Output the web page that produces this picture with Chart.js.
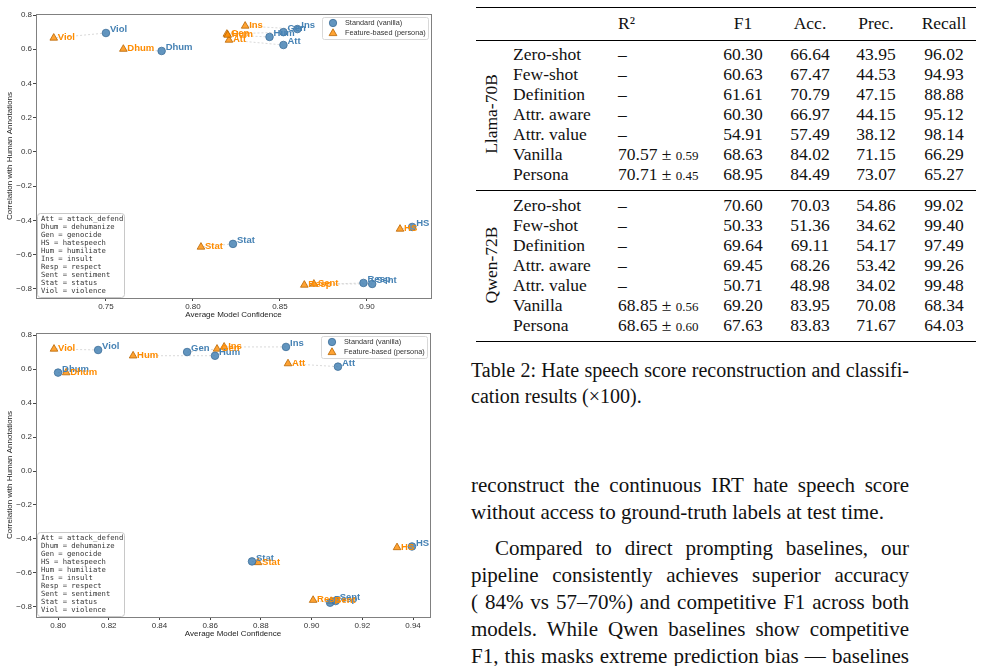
<!DOCTYPE html>
<html>
<head>
<meta charset="utf-8">
<script src="https://cdn.jsdelivr.net/npm/chart.js@4.4.1/dist/chart.umd.min.js"></script>
<style>
  body { margin: 0; background: #fff; width: 983px; height: 666px; overflow: hidden; position: relative;
         font-family: "Liberation Serif", "Times New Roman", serif; color: #111; }
  .plot { position: absolute; left: 0; width: 440px; }
  .cell { position: absolute; height: 20px; line-height: 20px; font-size: 17.5px; white-space: nowrap; }
  .small { font-size: 13px; }
  .rule { position: absolute; left: 476px; width: 500px; background: #000; }
  .grp { position: absolute; font-size: 17.5px; line-height: 20px; white-space: nowrap; transform: translate(-50%, -50%) rotate(-90deg); }
  .line { position: absolute; left: 471px; width: 438px; white-space: nowrap; }
  .just { text-align: justify; text-align-last: justify; white-space: normal; }
  .body { font-size: 21px; line-height: 27px; height: 27px; }
  .cap { font-size: 20px; line-height: 26px; height: 26px; }
</style>
</head>
<body>
<div class="plot" style="top:0;height:325px"><canvas id="top"></canvas></div>
<div class="plot" style="top:325px;height:319px"><canvas id="bottom"></canvas></div>

<script>
// categories (abbreviations) and what they stand for
const abbrs = ["Att", "Dhum", "Gen", "HS", "Hum", "Ins", "Resp", "Sent", "Stat", "Viol"];
const abbrFull = ["attack_defend", "dehumanize", "genocide", "hatespeech", "humiliate",
                  "insult", "respect", "sentiment", "status", "violence"];

// top panel
const vanConf1 = [0.852, 0.782, 0.852, 0.926, 0.844, 0.860, 0.898, 0.903, 0.823, 0.750];
const vanCorr1 = [0.625, 0.590, 0.700, -0.438, 0.672, 0.718, -0.765, -0.771, -0.537, 0.695];
const perConf1 = [0.8207, 0.760, 0.8195, 0.919, 0.820, 0.830, 0.864, 0.8695, 0.8046, 0.720];
const perCorr1 = [0.654, 0.601, 0.689, -0.450, 0.683, 0.736, -0.777, -0.771, -0.555, 0.666];
const xTicks1 = [0.75, 0.80, 0.85, 0.90];

// bottom panel
const vanConf2 = [0.9104, 0.800, 0.8509, 0.9396, 0.8619, 0.8899, 0.9073, 0.9095, 0.8765, 0.8158];
const vanCorr2 = [0.614, 0.579, 0.700, -0.444, 0.678, 0.730, -0.775, -0.765, -0.532, 0.712];
const perConf2 = [0.8907, 0.8032, 0.8627, 0.9337, 0.8296, 0.8655, 0.9006, 0.9077, 0.8789, 0.7984];
const perCorr2 = [0.632, 0.579, 0.718, -0.450, 0.678, 0.730, -0.760, -0.766, -0.538, 0.718];
const xTicks2 = [0.80, 0.82, 0.84, 0.86, 0.88, 0.90, 0.92, 0.94];

const yTicks = [-0.8, -0.6, -0.4, -0.2, 0.0, 0.2, 0.4, 0.6, 0.8];

// table
const methods = ["Zero-shot", "Few-shot", "Definition", "Attr. aware", "Attr. value", "Vanilla", "Persona"];
const tableCols = ["F1", "Acc.", "Prec.", "Recall"];
const llamaR2 = [null, null, null, null, null, [70.57, 0.59], [70.71, 0.45]];
const llamaF1 = [60.30, 60.63, 61.61, 60.30, 54.91, 68.63, 68.95];
const llamaAcc = [66.64, 67.47, 70.79, 66.97, 57.49, 84.02, 84.49];
const llamaPrec = [43.95, 44.53, 47.15, 44.15, 38.12, 71.15, 73.07];
const llamaRec = [96.02, 94.93, 88.88, 95.12, 98.14, 66.29, 65.27];
const qwenR2 = [null, null, null, null, null, [68.85, 0.56], [68.65, 0.60]];
const qwenF1 = [70.60, 50.33, 69.64, 69.45, 50.71, 69.20, 67.63];
const qwenAcc = [70.03, 51.36, 69.11, 68.26, 48.98, 83.95, 83.83];
const qwenPrec = [54.86, 34.62, 54.17, 53.42, 34.02, 70.08, 71.67];
const qwenRec = [99.02, 99.40, 97.49, 99.26, 99.48, 68.34, 64.03];

const BLUE = "#4682b4";
const ORANGE = "#ff8c00";

Chart.defaults.font.family = '"Liberation Sans", Arial, sans-serif';
Chart.defaults.animation = false;

const fmt = (v, d) => v.toFixed(d).replace("-", "\u2212");

// text next to each marker
const labelPlugin = {
    id: "pointLabels",
    afterDatasetsDraw(chart) {
        const ctx = chart.ctx;
        chart.data.datasets.forEach((ds, di) => {
            if (!ds.names) return;
            const meta = chart.getDatasetMeta(di);
            ctx.save();
            ctx.font = 'bold 9.5px "Liberation Sans", Arial, sans-serif';
            ctx.fillStyle = ds.labelColor;
            ctx.textBaseline = "middle";
            meta.data.forEach((pt, i) => ctx.fillText(ds.names[i], pt.x + 4, pt.y + ds.dy));
            ctx.restore();
        });
    }
};

// legend box, abbreviation key, frame
const decoPlugin = {
    id: "deco",
    afterDraw(chart) {
        const { ctx, chartArea: a } = chart;
        ctx.save();

        // abbreviation key, bottom left
        const kx = a.left + 1, kw = 87, kh = 84, ky = a.bottom - 1 - kh;
        ctx.fillStyle = "rgba(255,255,255,0.9)";
        ctx.strokeStyle = "#c8c8c8";
        ctx.lineWidth = 1;
        ctx.beginPath();
        ctx.roundRect(kx + 0.5, ky + 0.5, kw, kh, 3);
        ctx.fill(); ctx.stroke();
        ctx.fillStyle = "#333";
        ctx.font = '7.2px "DejaVu Sans Mono", monospace';
        ctx.textBaseline = "middle";
        abbrs.forEach((ab, i) => ctx.fillText(ab + " = " + abbrFull[i], kx + 4, ky + 6.5 + i * 8));

        // legend, top right
        const lw = 106, lh = 22, lx = a.right - 3 - lw, ly = a.top + 3;
        ctx.fillStyle = "rgba(255,255,255,0.9)";
        ctx.strokeStyle = "#d8d8d8";
        ctx.beginPath();
        ctx.roundRect(lx + 0.5, ly + 0.5, lw, lh, 2);
        ctx.fill(); ctx.stroke();
        const items = chart.data.datasets.filter(d => d.names);
        items.forEach((d, i) => {
            const mx = lx + 11, my = ly + 6 + i * 10;
            ctx.fillStyle = d.backgroundColor;
            ctx.strokeStyle = d.borderColor;
            ctx.lineWidth = 0.8;
            ctx.beginPath();
            if (d.pointStyle === "circle") {
                ctx.arc(mx, my, 3.7, 0, Math.PI * 2);
            } else {
                ctx.moveTo(mx, my - 4.2);
                ctx.lineTo(mx + 3.9, my + 2.6);
                ctx.lineTo(mx - 3.9, my + 2.6);
                ctx.closePath();
            }
            ctx.fill(); ctx.stroke();
            ctx.fillStyle = "#333";
            ctx.font = '7.3px "Liberation Sans", Arial, sans-serif';
            ctx.textBaseline = "middle";
            ctx.fillText(d.label, lx + 23, my);
        });

        // plot frame
        ctx.strokeStyle = "#808080";
        ctx.lineWidth = 1;
        ctx.strokeRect(a.left + 0.5, a.top + 0.5, a.right - a.left, a.bottom - a.top);
        ctx.restore();
    }
};

function makeChart(id, vc, vr, pc, pr, xTicks, xDigits, xMin, xMax, yMin, yMax, pad) {
    const links = abbrs.map((_, i) => ({
        type: "line",
        data: [{ x: vc[i], y: vr[i] }, { x: pc[i], y: pr[i] }],
        borderColor: "#cfcfcf",
        borderWidth: 0.8,
        borderDash: [2, 2],
        pointRadius: 0,
        fill: false
    }));
    return new Chart(document.getElementById(id), {
        type: "scatter",
        data: {
            datasets: [
                {
                    label: "Standard (vanilla)",
                    data: abbrs.map((_, i) => ({ x: vc[i], y: vr[i] })),
                    pointStyle: "circle",
                    pointRadius: 3.8,
                    backgroundColor: "rgba(70,130,180,0.85)",
                    borderColor: "#3d6f99",
                    borderWidth: 0.8,
                    names: abbrs, labelColor: BLUE, dy: -3.5
                },
                {
                    label: "Feature-based (persona)",
                    data: abbrs.map((_, i) => ({ x: pc[i], y: pr[i] })),
                    pointStyle: "triangle",
                    pointRadius: 4.4,
                    backgroundColor: "rgba(255,140,0,0.8)",
                    borderColor: "#b86500",
                    borderWidth: 0.8,
                    names: abbrs, labelColor: ORANGE, dy: -0.5
                },
                ...links
            ]
        },
        options: {
            responsive: true,
            maintainAspectRatio: false,
            layout: { padding: pad },
            plugins: { legend: { display: false }, tooltip: { enabled: false } },
            scales: {
                x: {
                    type: "linear", min: xMin, max: xMax,
                    afterBuildTicks: s => { s.ticks = xTicks.map(v => ({ value: v })); },
                    afterFit: s => { s.height = 27; },
                    grid: { drawOnChartArea: false, drawTicks: true, tickLength: 3, color: "#444" },
                    border: { display: false },
                    ticks: { padding: 1, maxRotation: 0, color: "#333", font: { size: 8 },
                             callback: v => fmt(v, xDigits) },
                    title: { display: true, text: "Average Model Confidence", color: "#222",
                             font: { size: 8 }, padding: { top: 0, bottom: 5 } }
                },
                y: {
                    type: "linear", min: yMin, max: yMax,
                    afterBuildTicks: s => { s.ticks = yTicks.map(v => ({ value: v })); },
                    afterFit: s => { s.width = 36; },
                    grid: { drawOnChartArea: false, drawTicks: true, tickLength: 3, color: "#444" },
                    border: { display: false },
                    ticks: { padding: 1, color: "#333", font: { size: 8 }, callback: v => fmt(v, 1) },
                    title: { display: true, text: "Correlation with Human Annotations", color: "#222",
                             font: { size: 8 }, padding: { top: 5, bottom: 0 } }
                }
            }
        },
        plugins: [labelPlugin, decoPlugin]
    });
}

makeChart("top", vanConf1, vanCorr1, perConf1, perCorr1, xTicks1, 2, 0.7098, 0.9368, -0.853, 0.806,
          { top: 14, right: 9, left: 0, bottom: 0 });
makeChart("bottom", vanConf2, vanCorr2, perConf2, perCorr2, xTicks2, 2, 0.7913, 0.9467, -0.859, 0.812,
          { top: 8, right: 10, left: 0, bottom: 0 });

// ---- table ----
function put(html, x, y, w, align, cls) {
    const d = document.createElement("div");
    d.className = "cell " + (cls || "");
    d.style.left = x + "px";
    d.style.top = (y - 10) + "px";
    if (w) d.style.width = w + "px";
    d.style.textAlign = align || "left";
    d.innerHTML = html;
    document.body.appendChild(d);
}
function rule(y, h) {
    const d = document.createElement("div");
    d.className = "rule";
    d.style.top = y + "px";
    d.style.height = h + "px";
    document.body.appendChild(d);
}
const numCols = [[710, 66], [778, 64], [842, 68], [910, 68]];

rule(6.5, 1.5); rule(40, 1); rule(190, 1); rule(340.5, 1.5);
put("R\u00b2", 618, 23);
tableCols.forEach((c, j) => put(c, numCols[j][0], 23, numCols[j][1], "center"));

function group(name, y0, r2, cols) {
    const g = document.createElement("div");
    g.className = "grp";
    g.style.left = "491px";
    g.style.top = (y0 + 60) + "px";
    g.textContent = name;
    document.body.appendChild(g);
    methods.forEach((m, i) => {
        const y = y0 + i * 20;
        put(m, 513, y);
        put(r2[i] ? r2[i][0].toFixed(2) + " \u00b1 <span class='small'>" + r2[i][1].toFixed(2) + "</span>" : "\u2013", 618, y);
        cols.forEach((arr, j) => put(arr[i].toFixed(2), numCols[j][0], y, numCols[j][1], "center"));
    });
}
group("Llama-70B", 54, llamaR2, [llamaF1, llamaAcc, llamaPrec, llamaRec]);
group("Qwen-72B", 205, qwenR2, [qwenF1, qwenAcc, qwenPrec, qwenRec]);

// ---- caption and body text ----
function textLine(txt, yc, cls, just, indent) {
    const d = document.createElement("div");
    d.className = "line " + cls + (just ? " just" : "");
    const h = cls === "body" ? 27 : 26;
    d.style.top = (yc - h / 2) + "px";
    if (indent) { d.style.left = (471 + indent) + "px"; d.style.width = (438 - indent) + "px"; }
    d.textContent = txt;
    document.body.appendChild(d);
}
textLine("Table 2: Hate speech score reconstruction and classifi-", 370, "cap", true);
textLine("cation results (\u00d7100).", 396, "cap", false);
textLine("reconstruct the continuous IRT hate speech score", 485, "body", true);
textLine("without access to ground-truth labels at test time.", 512, "body", false);
textLine("Compared to direct prompting baselines, our", 548, "body", true, 24);
textLine("pipeline consistently achieves superior accuracy", 575, "body", true);
textLine("( 84% vs 57\u201370%) and competitive F1 across both", 602, "body", true);
textLine("models. While Qwen baselines show competitive", 629, "body", true);
textLine("F1, this masks extreme prediction bias \u2014 baselines", 656, "body", true);
</script>
</body>
</html>
